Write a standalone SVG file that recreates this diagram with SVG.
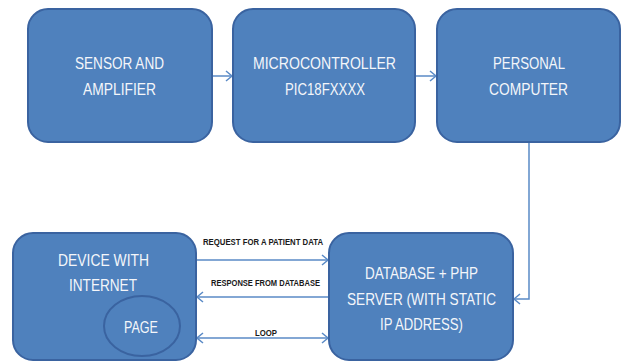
<svg xmlns="http://www.w3.org/2000/svg" width="622" height="361" viewBox="0 0 622 361">
<defs>
<style>
.box{fill:#4f81bd;stroke:#3a63a0;stroke-width:2}
.t{fill:#f4f6fa;font-family:"Liberation Sans Narrow","Liberation Sans",Arial,sans-serif;font-size:16.5px;text-anchor:middle}
.lbl{fill:#1a1a1a;font-family:"Liberation Sans",Arial,sans-serif;font-size:8.5px;font-weight:bold;text-anchor:start}
.c{fill:none;stroke:#5a8ac6;stroke-width:1.5}
</style>
<marker id="ah" markerWidth="10" markerHeight="12" refX="7" refY="6" orient="auto" markerUnits="userSpaceOnUse">
<path d="M1,1 L7,6 L1,11" fill="none" stroke="#5a8ac6" stroke-width="1.5"/>
</marker>
<marker id="as" markerWidth="10" markerHeight="12" refX="1" refY="6" orient="auto" markerUnits="userSpaceOnUse">
<path d="M7,1 L1,6 L7,11" fill="none" stroke="#5a8ac6" stroke-width="1.5"/>
</marker>
</defs>
<rect width="622" height="361" fill="#ffffff"/>
<g id="connectors">
<line class="c" x1="212" y1="76" x2="232" y2="76" marker-end="url(#ah)"/>
<line class="c" x1="415" y1="76" x2="436" y2="76" marker-end="url(#ah)"/>
<polyline class="c" points="529,142 529,299 514,299" marker-end="url(#ah)"/>
<line class="c" x1="196" y1="260" x2="328" y2="260" marker-end="url(#ah)"/>
<line class="c" x1="329" y1="297" x2="197" y2="297" marker-end="url(#ah)"/>
<line class="c" x1="197" y1="338" x2="328" y2="338" marker-start="url(#as)" marker-end="url(#ah)"/>
<text class="lbl" x="203" y="245" textLength="120" lengthAdjust="spacingAndGlyphs">REQUEST FOR A PATIENT DATA</text>
<text class="lbl" x="211" y="286" textLength="109" lengthAdjust="spacingAndGlyphs">RESPONSE FROM DATABASE</text>
<text class="lbl" x="255" y="336" textLength="22" lengthAdjust="spacingAndGlyphs">LOOP</text>
</g>
<g id="sensor">
<rect class="box" x="28" y="9" width="184" height="133" rx="20"/>
<text class="t" x="119.5" y="69" textLength="89" lengthAdjust="spacingAndGlyphs">SENSOR AND</text>
<text class="t" x="119.5" y="95" textLength="73" lengthAdjust="spacingAndGlyphs">AMPLIFIER</text>
</g>
<g id="microcontroller">
<rect class="box" x="233" y="9" width="182" height="133" rx="20"/>
<text class="t" x="324.5" y="69" textLength="143" lengthAdjust="spacingAndGlyphs">MICROCONTROLLER</text>
<text class="t" x="325" y="95" textLength="80" lengthAdjust="spacingAndGlyphs">PIC18FXXXX</text>
</g>
<g id="pc">
<rect class="box" x="437" y="9" width="183" height="133" rx="20"/>
<text class="t" x="529" y="69" textLength="72" lengthAdjust="spacingAndGlyphs">PERSONAL</text>
<text class="t" x="528.5" y="95" textLength="79" lengthAdjust="spacingAndGlyphs">COMPUTER</text>
</g>
<g id="device">
<rect class="box" x="13" y="233" width="183" height="127" rx="20"/>
<text class="t" x="103.5" y="266" textLength="91" lengthAdjust="spacingAndGlyphs">DEVICE WITH</text>
<text class="t" x="103" y="291" textLength="68" lengthAdjust="spacingAndGlyphs">INTERNET</text>
<g id="page">
<ellipse cx="142" cy="326" rx="38" ry="30" fill="#4f81bd" stroke="#3a63a0" stroke-width="2"/>
<text class="t" x="141" y="333" textLength="34" lengthAdjust="spacingAndGlyphs">PAGE</text>
</g>
</g>
<g id="server">
<rect class="box" x="329" y="233" width="184" height="127" rx="20"/>
<text class="t" x="421.5" y="279" textLength="113" lengthAdjust="spacingAndGlyphs">DATABASE + PHP</text>
<text class="t" x="421.5" y="305" textLength="149" lengthAdjust="spacingAndGlyphs">SERVER (WITH STATIC</text>
<text class="t" x="421.5" y="330" textLength="83" lengthAdjust="spacingAndGlyphs">IP ADDRESS)</text>
</g>
</svg>
